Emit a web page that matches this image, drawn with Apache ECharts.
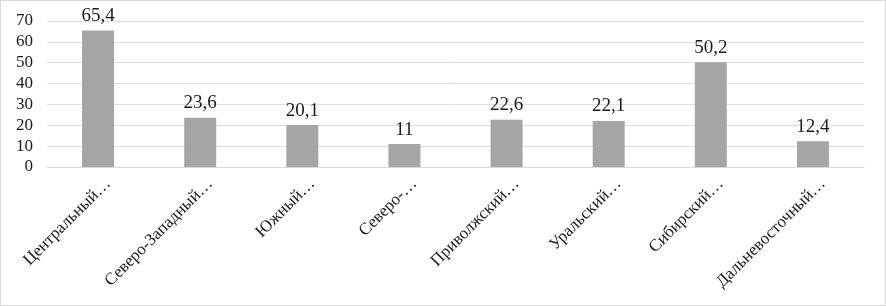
<!DOCTYPE html>
<html><head><meta charset="utf-8">
<script src="https://cdn.jsdelivr.net/npm/echarts@6/dist/echarts.min.js"></script>
<style>html,body{margin:0;padding:0;background:#fff}#c{width:886px;height:306px;box-sizing:border-box;border:1px solid #d9d9d9}</style>
</head><body><div id="c"></div>
<script>
const categories = ["Центральный…","Северо-Западный…","Южный…","Северо-…","Приволжский…","Уральский…","Сибирский…","Дальневосточный…"];
const values = [65.4, 23.6, 20.1, 11, 22.6, 22.1, 50.2, 12.4];
const yTicks = [0, 10, 20, 30, 40, 50, 60, 70];
const font = 'Liberation Serif';
const chart = echarts.init(document.getElementById('c'), null, {renderer: 'canvas'});
chart.setOption({
  animation: false,
  textStyle: {fontFamily: font},
  grid: [
    {left: 46, right: 21, top: 20, bottom: 138},
    {left: 56, right: 11, top: 20, bottom: 138}
  ],
  xAxis: [{
    type: 'category', data: categories, gridIndex: 0,
    axisLine: {show: true, lineStyle: {color: '#d9d9d9'}},
    axisTick: {show: false},
    axisLabel: {show: false}
  }, {
    type: 'category', data: categories, gridIndex: 1,
    axisLine: {show: false}, axisTick: {show: false}, splitLine: {show: false},
    axisLabel: {rotate: 45, interval: 0, margin: 14, color: '#1a1a1a', fontFamily: font, fontSize: 17}
  }],
  yAxis: [{
    type: 'value', gridIndex: 0, min: yTicks[0], max: yTicks[yTicks.length-1], interval: 10,
    axisLine: {show: false}, axisTick: {show: false},
    splitLine: {lineStyle: {color: '#dedede'}},
    axisLabel: {margin: 14, color: '#1a1a1a', fontFamily: font, fontSize: 17}
  }, {
    type: 'value', gridIndex: 1, min: 0, max: 70, show: false, splitLine: {show: false}
  }],
  series: [{
    type: 'bar', data: values, barWidth: 32, xAxisIndex: 0, yAxisIndex: 0,
    itemStyle: {color: '#a5a5a5'},
    label: {show: true, position: 'top', distance: 5, color: '#1a1a1a', fontFamily: font, fontSize: 19,
      formatter: p => String(p.value).replace('.', ',')}
  }]
});
</script></body></html>
